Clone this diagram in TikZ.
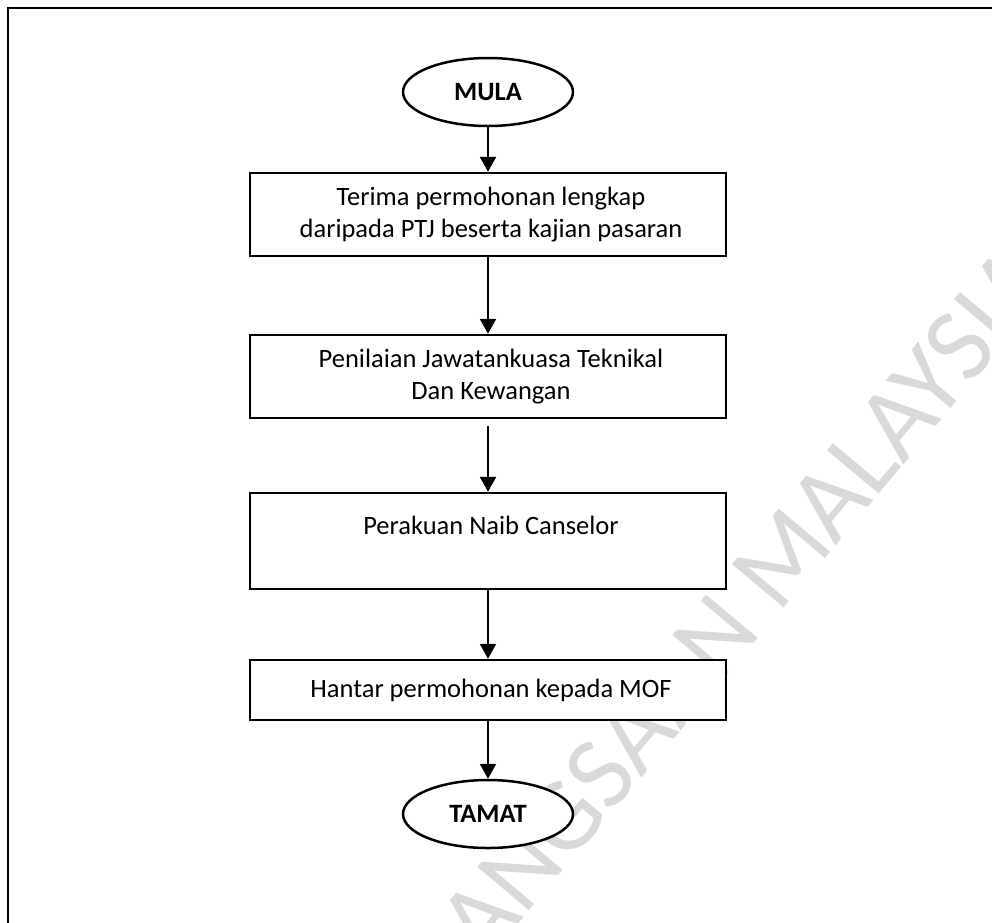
\documentclass[tikz,border=0pt]{standalone}
\usepackage{fontspec}
\setmainfont{Carlito}
\usepackage{tikz}
\usetikzlibrary{arrows.meta}
\usetikzlibrary{shapes.geometric}
\tikzset{
  stepbox/.style={draw, fill=white, line width=2.5pt, rectangle, minimum width=476pt, align=center, inner sep=0pt, font=\fontsize{26.5}{32}\selectfont},
  terminal/.style={draw, fill=white, ellipse, line width=2.5pt, minimum width=170pt, minimum height=68pt, inner sep=0pt, font=\fontsize{26.5}{32}\selectfont\bfseries},
  flow/.style={line width=2.5pt, arrows={-Triangle[length=15pt, width=16pt]}},
  watermark/.style={text=black!15, inner sep=0pt, rotate=50, anchor=base west, font=\fontsize{105}{105}\selectfont},
}
\begin{document}
\begin{tikzpicture}[x=1pt, y=-1pt]
\useasboundingbox (0,0) rectangle (992,922);
\clip (0,0) rectangle (992,922);
\node [watermark] (wm) at (778,615) {\llap{UNIVERSITI KEBANGSAAN\ }MALAYSIA};
\draw [line width=2.5pt] (8,8) rectangle (1010,940);
\node [terminal] (mula) at (488,92) {MULA};
\node [stepbox, minimum height=83pt] (terima) at (488,214.5) {\hspace*{6pt}Terima permohonan lengkap\\\hspace*{6pt}daripada PTJ beserta kajian pasaran};
\node [stepbox, minimum height=83pt] (nilai) at (488,376.5) {\hspace*{6pt}Penilaian Jawatankuasa Teknikal\\\hspace*{6pt}Dan Kewangan};
\node [stepbox, minimum height=96pt] (perakuan) at (488,541) {\hspace*{6pt}Perakuan Naib Canselor\\~};
\node [stepbox, minimum height=60pt] (hantar) at (488,690) {\hspace*{6pt}Hantar permohonan kepada MOF};
\node [terminal] (tamat) at (488,814) {TAMAT};
\draw [flow] (mula) -- (terima);
\draw [flow] (terima) -- (nilai);
\draw [flow, shorten <=7pt] (nilai) -- (perakuan);
\draw [flow] (perakuan) -- (hantar);
\draw [flow] (hantar) -- (tamat);
\end{tikzpicture}
\end{document}
